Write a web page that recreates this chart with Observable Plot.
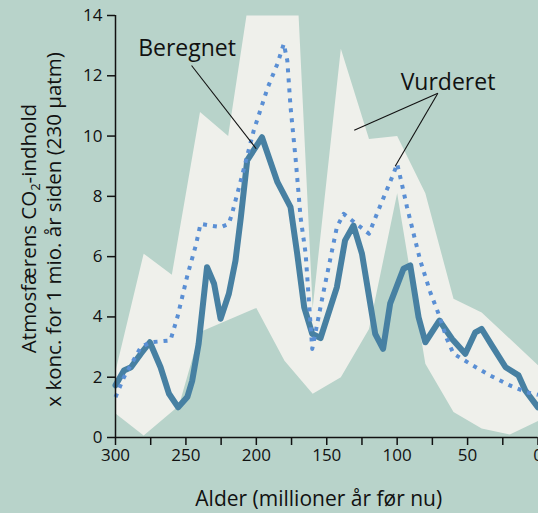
<!DOCTYPE html>
<html>
<head>
<meta charset="utf-8">
<script src="https://cdn.jsdelivr.net/npm/d3@7"></script>
<script src="https://cdn.jsdelivr.net/npm/@observablehq/plot@0.6"></script>
<style>
  html, body { margin: 0; padding: 0; background: #b8d3ca; }
  #chart { width: 538px; height: 513px; overflow: hidden; }
</style>
</head>
<body>
<div id="chart"></div>
<script>
// Beregnet (calculated) curve
const calcAge = [300, 294, 289, 282, 275.6, 268, 262, 255.5, 249, 245.5, 241, 235, 230, 225.4, 219.5, 214.8, 211, 206.5, 196, 185, 175.7, 171, 166, 160.3, 154.4, 142.8, 137, 131, 125, 115.6, 110, 105, 95.5, 90.7, 84.8, 80, 70, 61, 51.6, 44.5, 40, 32.7, 23, 13.8, 9, 0];
const calcVal = [1.73, 2.22, 2.33, 2.78, 3.16, 2.33, 1.45, 1.0, 1.34, 1.89, 3.1, 5.65, 5.1, 3.94, 4.77, 5.87, 7.3, 9.19, 9.96, 8.47, 7.64, 6.1, 4.32, 3.44, 3.3, 4.99, 6.54, 7.03, 6.1, 3.44, 2.94, 4.44, 5.6, 5.71, 3.99, 3.16, 3.88, 3.27, 2.78, 3.49, 3.6, 3.05, 2.33, 2.06, 1.56, 1.0];

// Vurderet (estimated) curve
const estAge = [300, 294, 282, 275, 261, 256, 249, 243, 239.6, 232.5, 225, 219.5, 217, 211, 201.8, 192, 185, 180.5, 178, 175.7, 172, 168.6, 165, 160.3, 152, 142.8, 138, 132, 120, 114.4, 108.5, 102.6, 100, 96.7, 93, 89.5, 83.6, 76.5, 70.6, 64.7, 60, 48, 34, 20, 8, 0];
const estVal = [1.34, 2.0, 3.0, 3.16, 3.22, 4.0, 5.37, 6.37, 7.09, 7.03, 6.98, 7.09, 7.47, 8.53, 10.19, 11.6, 12.4, 13.06, 12.5, 10.96, 9.19, 7.31, 6.1, 2.94, 4.9, 6.98, 7.42, 7.2, 6.76, 7.42, 8.09, 8.75, 9.08, 8.42, 7.64, 6.98, 5.87, 4.82, 4.1, 3.27, 2.78, 2.44, 2.06, 1.73, 1.5, 1.42];

// Uncertainty band (Vurderet range)
const bandUpperAge = [300, 280, 260, 240, 220, 207, 170, 160, 140, 120, 100, 80, 60, 40, 0];
const bandUpperVal = [2.2, 6.1, 5.4, 10.8, 10.0, 14, 14, 4.3, 12.9, 9.9, 10.0, 8.1, 4.6, 4.15, 2.4];
const bandLowerAge = [300, 280, 255, 240, 200, 180, 160, 140, 120, 100, 80, 60, 40, 20, 0];
const bandLowerVal = [0.8, 0.07, 1.05, 3.5, 4.3, 2.55, 1.45, 2.0, 3.6, 8.1, 2.45, 0.85, 0.3, 0.1, 0.55];

// Axis ticks
const xTicks = [300, 275, 250, 225, 200, 175, 150, 125, 100, 75, 50, 25, 0];
const xTickLabels = ["300", "", "250", "", "200", "", "150", "", "100", "", "50", "", "0"];
const yTicks = [0, 2, 4, 6, 8, 10, 12, 14];

// Annotations
const labels = ["Beregnet", "Vurderet"];
const labelAge = [249.2, 63.9];
const labelVal = [12.9, 11.76];
const leaderFromAge = [246, 71.1, 71.1];
const leaderFromVal = [12.34, 11.42, 11.42];
const leaderToAge = [200.1, 130.5, 101.4];
const leaderToVal = [9.58, 10.19, 9.0];

const xTitle = "Alder (millioner år før nu)";
const yTitle1 = "Atmosfærens CO₂-indhold";
const yTitle2 = "x konc. for 1 mio. år siden (230 µatm)";

// Build tables
const calc = calcAge.map((a, i) => ({age: a, v: calcVal[i]}));
const est = estAge.map((a, i) => ({age: a, v: estVal[i]}));
const band = bandUpperAge.map((a, i) => ({age: a, v: bandUpperVal[i]}))
  .concat(bandLowerAge.map((a, i) => ({age: a, v: bandLowerVal[i]})).reverse());
const lab = labels.map((t, i) => ({t, age: labelAge[i], v: labelVal[i]}));
const leaders = leaderFromAge.map((a, i) => ({x1: a, y1: leaderFromVal[i], x2: leaderToAge[i], y2: leaderToVal[i]}));
const tickLabelMap = new Map(xTicks.map((t, i) => [t, xTickLabels[i]]));

const FONT = "'Open Sans', 'Noto Sans', sans-serif";

const chart = Plot.plot({
  width: 538,
  height: 513,
  marginLeft: 115,
  marginRight: 0.5,
  marginTop: 15,
  marginBottom: 76,
  style: {background: "#b8d3ca", color: "#111", fontFamily: FONT, fontSize: "17px", overflow: "visible"},
  x: {domain: [300, 0]},
  y: {domain: [0, 14]},
  marks: [
    Plot.line(band, {x: "age", y: "v", fill: "#eff0eb", stroke: "none"}),
    Plot.line(calc, {x: "age", y: "v", stroke: "#4780a2", strokeWidth: 6, strokeLinejoin: "round", strokeLinecap: "round"}),
    Plot.line(est, {x: "age", y: "v", stroke: "#5a8fd4", strokeWidth: 4, strokeDasharray: "4,6", strokeLinecap: "butt"}),
    Plot.link(leaders, {x1: "x1", y1: "y1", x2: "x2", y2: "y2", stroke: "#111", strokeWidth: 1.1}),
    Plot.text(lab, {x: "age", y: "v", text: "t", fontSize: 23, fill: "#111"}),
    Plot.ruleX([300], {stroke: "#111", strokeWidth: 1.5}),
    Plot.ruleY([0], {stroke: "#111", strokeWidth: 1.5}),
    Plot.axisX({ticks: xTicks, tickSize: 8, tickPadding: 3, strokeWidth: 1.5, tickFormat: d => tickLabelMap.get(d), label: null, fontSize: 17}),
    Plot.axisY({ticks: yTicks, tickSize: 8, tickPadding: 5, strokeWidth: 1.5, label: null, fontSize: 17}),
    Plot.text([xTitle], {frameAnchor: "bottom", textAnchor: "middle", dy: 68, dx: -8, fontSize: 21, fill: "#111"}),
    Plot.text([yTitle1], {frameAnchor: "left", textAnchor: "middle", rotate: -90, dx: -86, dy: 2, fontSize: 20.5, fill: "#111"}),
    Plot.text([yTitle2], {frameAnchor: "left", textAnchor: "middle", rotate: -90, dx: -61, dy: 3, fontSize: 20.5, fill: "#111"})
  ]
});

// Render CO2 subscript as a tspan (still real text)
d3.select(chart).selectAll("text").each(function() {
  const el = d3.select(this);
  if (el.text() === yTitle1) {
    el.text(null);
    el.append("tspan").text("Atmosfærens CO");
    el.append("tspan").attr("font-size", "13px").attr("dy", "4").text("2");
    el.append("tspan").attr("dy", "-4").text("-indhold");
  }
});

document.getElementById("chart").appendChild(chart);
</script>
</body>
</html>
